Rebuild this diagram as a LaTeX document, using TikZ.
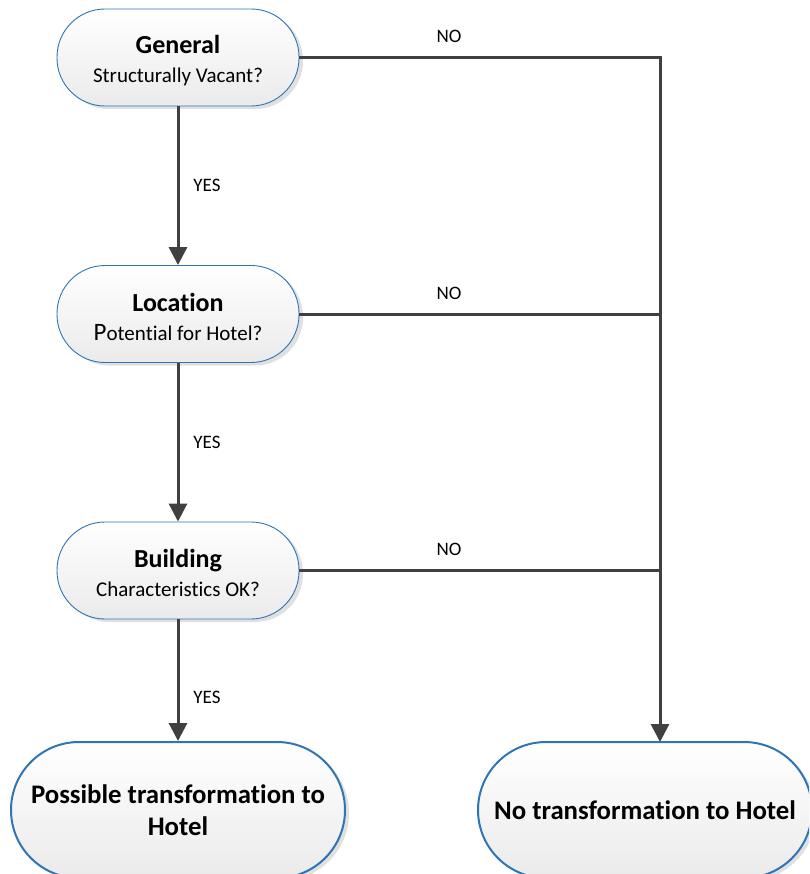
\documentclass[tikz,border=0pt]{standalone}
\usepackage{fontspec}
\setmainfont{Carlito}[Ligatures=NoCommon]
\usetikzlibrary{arrows.meta,shadows}
\definecolor{linegray}{HTML}{404040}
\definecolor{edgeblue}{HTML}{2E75B6}
\newcommand{\steptitle}[1]{{\bfseries\fontsize{26}{29}\selectfont\rule{0pt}{24pt}#1}}
\begin{document}
\begin{tikzpicture}[x=1pt,y=-1pt,
  boxbase/.style={draw=edgeblue, top color=white, bottom color=gray!16,
    align=center, inner sep=0pt,
    drop shadow={shadow xshift=4pt, shadow yshift=-3pt, fill=black, opacity=.12}},
  decision/.style={boxbase, line width=0.9pt, rounded corners=48pt,
    minimum width=242pt, minimum height=97pt,
    font=\fontsize{21}{29}\selectfont},
  outcome/.style={boxbase, line width=2pt, rounded corners=68pt,
    minimum width=334pt, minimum height=136pt,
    font=\bfseries\fontsize{26.8}{32}\selectfont},
  conn/.style={draw=linegray, line width=3pt},
  arr/.style={conn, -{Triangle[width=18pt,length=18pt]}},
  lbl/.style={font=\fontsize{19}{22}\selectfont, text=black, inner sep=0pt}
]
\clip (0,0) rectangle (809,874);

% decision steps
\node[decision] (gen) at (178,57.5)
  {\steptitle{General}\\Structurally Vacant?};
\node[decision] (loc) at (178,314)
  {\steptitle{Location}\\{\fontsize{25}{29}\selectfont P}otential for Hotel?};
\node[decision] (bld) at (178,570.5)
  {\steptitle{Building}\\Characteristics OK?};

% outcomes
\node[outcome] (yesend) at (178,810) {Possible transformation to\\Hotel};
\node[outcome] (noend) at (645,810) {No transformation to Hotel};

% YES path
\draw[arr] (gen.south) -- node[lbl, xshift=29pt] (y1) {YES} (loc.north);
\draw[arr] (loc.south) -- node[lbl, xshift=29pt] (y2) {YES} (bld.north);
\draw[arr] (bld.south) -- node[lbl, pos=0.64, xshift=29pt] (y3) {YES} (yesend.north);

% NO path to the collecting line
\coordinate (bus1) at (660,57.5);
\coordinate (bus2) at (660,314);
\coordinate (bus3) at (660,570.5);
\coordinate (busend) at (660,742);
\draw[conn] (gen.east) -- node[lbl, pos=0.415, yshift=21pt] (n1) {NO} (bus1);
\draw[conn] (loc.east) -- node[lbl, pos=0.415, yshift=21pt] (n2) {NO} (bus2);
\draw[conn] (bld.east) -- node[lbl, pos=0.415, yshift=21pt] (n3) {NO} (bus3);
\draw[arr, line cap=rect] (bus1) -- (busend);
\end{tikzpicture}
\end{document}
